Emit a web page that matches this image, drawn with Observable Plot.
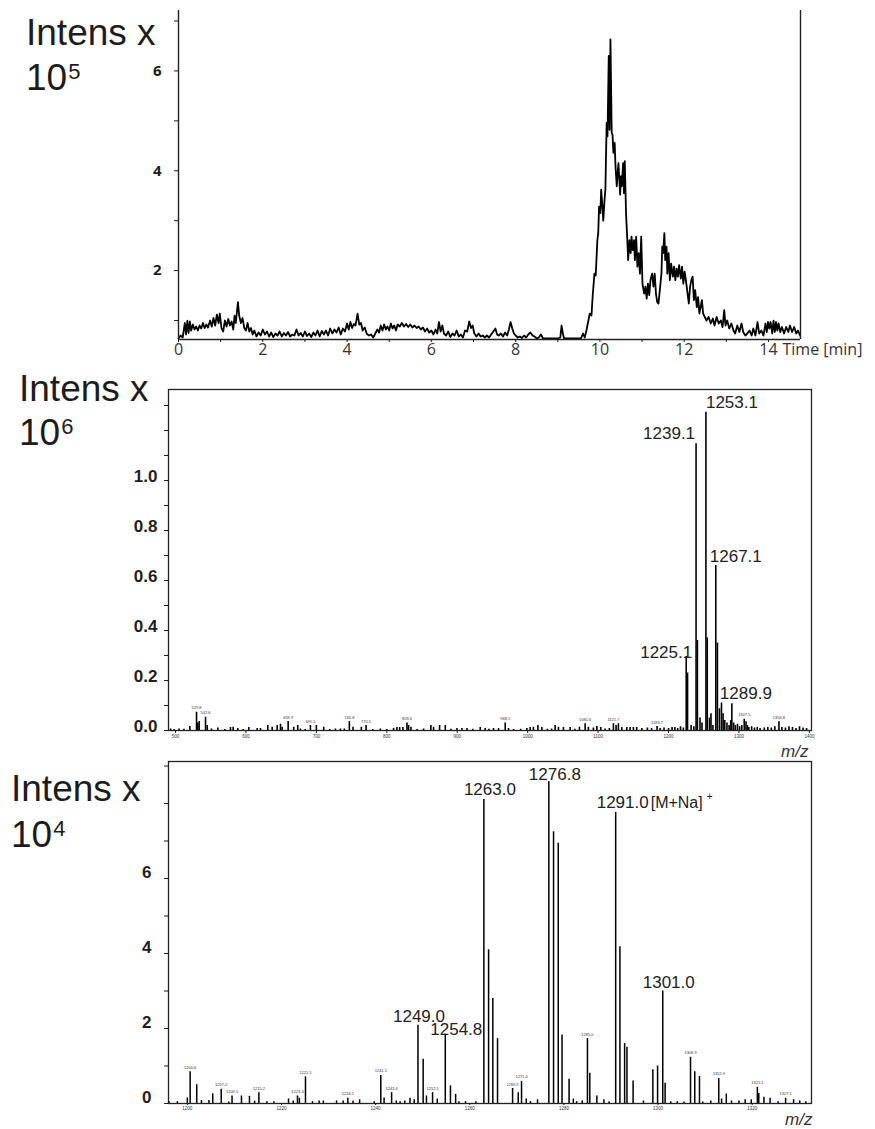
<!DOCTYPE html>
<html>
<head>
<meta charset="utf-8">
<script src="https://cdn.jsdelivr.net/npm/d3@7"></script>
<script src="https://cdn.jsdelivr.net/npm/@observablehq/plot@0.6"></script>
<style>
  html, body { margin: 0; padding: 0; background: #fff; }
  #wrap { position: relative; width: 875px; height: 1129px; overflow: hidden; background: #fff; }
  #wrap > svg { position: absolute; left: 0; }
  .intens { position: absolute; font-family: "Liberation Sans", Arial, sans-serif; font-size: 37px; line-height: 37px; color: #1c1c1c; white-space: nowrap; }
  .intens span { font-size: 22px; position: relative; top: -11px; margin-left: 1px; }
</style>
</head>
<body>
<div id="wrap"></div>
<script>
// ---------- DATA ----------
// Panel 1: chromatogram (time in min, intensity x 10^5)
const chromTime = [
  0.00,0.05,0.10,0.15,0.18,0.21,0.24,0.27,0.30,0.34,
  0.38,0.42,0.46,0.50,0.54,0.58,0.62,0.66,0.70,0.75,
  0.79,0.83,0.87,0.91,0.95,0.98,1.02,1.06,1.10,1.14,
  1.18,1.22,1.26,1.30,1.33,1.36,1.41,1.44,1.48,1.52,
  1.56,1.60,1.64,1.68,1.72,1.76,1.80,1.85,1.90,1.95,
  2.00,2.05,2.10,2.15,2.20,2.25,2.30,2.35,2.40,2.45,
  2.50,2.55,2.60,2.65,2.70,2.75,2.80,2.85,2.90,2.95,
  3.00,3.05,3.10,3.15,3.20,3.25,3.30,3.35,3.40,3.45,
  3.50,3.55,3.60,3.65,3.70,3.75,3.80,3.85,3.90,3.95,
  4.00,4.04,4.08,4.12,4.16,4.20,4.25,4.29,4.33,4.37,
  4.42,4.47,4.52,4.57,4.62,4.67,4.72,4.76,4.80,4.84,
  4.88,4.92,4.96,5.00,5.04,5.08,5.12,5.16,5.20,5.25,
  5.30,5.35,5.40,5.45,5.50,5.55,5.60,5.65,5.70,5.75,
  5.80,5.85,5.90,5.95,6.00,6.05,6.10,6.14,6.18,6.22,
  6.26,6.30,6.35,6.40,6.45,6.50,6.55,6.60,6.65,6.70,
  6.75,6.80,6.85,6.90,6.94,6.98,7.02,7.07,7.12,7.17,
  7.22,7.27,7.32,7.37,7.42,7.47,7.52,7.56,7.60,7.65,
  7.70,7.75,7.80,7.84,7.88,7.92,7.96,8.00,8.05,8.10,
  8.15,8.20,8.25,8.30,8.35,8.40,8.45,8.50,8.55,8.60,
  8.65,8.80,9.00,9.06,9.09,9.12,9.15,9.40,9.55,9.60,
  9.64,9.68,9.72,9.76,9.80,9.83,9.87,9.90,9.94,9.96,
  9.98,10.01,10.03,10.06,10.08,10.11,10.13,10.16,10.18,10.21,
  10.23,10.25,10.28,10.30,10.32,10.35,10.37,10.40,10.42,10.44,
  10.48,10.50,10.52,10.55,10.57,10.59,10.62,10.65,10.67,10.70,
  10.73,10.75,10.78,10.81,10.83,10.86,10.89,10.92,10.95,10.98,
  11.01,11.05,11.08,11.11,11.14,11.17,11.20,11.24,11.27,11.30,
  11.33,11.36,11.39,11.43,11.46,11.48,11.50,11.53,11.55,11.58,
  11.60,11.63,11.66,11.69,11.73,11.76,11.79,11.82,11.85,11.88,
  11.92,11.95,11.98,12.01,12.04,12.07,12.11,12.14,12.17,12.20,
  12.23,12.26,12.30,12.33,12.36,12.39,12.42,12.45,12.49,12.53,
  12.58,12.63,12.68,12.72,12.77,12.82,12.87,12.91,12.95,12.98,
  13.02,13.07,13.12,13.17,13.21,13.26,13.31,13.36,13.40,13.45,
  13.50,13.55,13.60,13.64,13.69,13.74,13.78,13.83,13.88,13.93,
  13.96,13.99,14.02,14.05,14.09,14.12,14.15,14.18,14.21,14.24,
  14.28,14.32,14.37,14.42,14.47,14.51,14.56,14.61,14.66,14.70,
  14.75
];
const chromIntens = [
  0.64,0.70,0.66,0.95,0.72,1.00,0.75,0.98,0.80,0.92,
  0.82,0.88,0.80,0.90,0.84,0.95,0.85,0.92,0.86,1.00,
  0.88,1.05,0.90,1.12,0.95,1.14,0.85,0.78,1.00,0.88,
  1.03,0.90,0.98,0.82,1.10,0.95,1.37,1.10,0.95,1.05,
  0.85,0.80,0.95,0.78,0.85,0.72,0.80,0.68,0.76,0.70,
  0.82,0.72,0.78,0.68,0.76,0.67,0.74,0.70,0.78,0.68,
  0.75,0.70,0.77,0.68,0.72,0.70,0.82,0.70,0.75,0.68,
  0.78,0.69,0.74,0.67,0.76,0.70,0.80,0.68,0.79,0.72,
  0.80,0.70,0.84,0.74,0.82,0.76,0.86,0.72,0.84,0.78,
  0.94,0.82,0.97,0.85,0.93,0.90,1.14,0.92,0.95,0.80,
  0.86,0.73,0.70,0.72,0.66,0.74,0.82,0.76,0.90,0.80,
  0.92,0.82,0.88,0.80,0.94,0.84,0.90,0.80,0.92,0.88,
  0.95,0.88,0.93,0.87,0.92,0.86,0.90,0.85,0.88,0.82,
  0.86,0.78,0.84,0.76,0.80,0.72,0.82,0.74,0.97,0.78,
  0.90,0.74,0.70,0.78,0.67,0.74,0.70,0.80,0.68,0.72,
  0.66,0.80,0.78,0.98,0.85,0.90,0.74,0.68,0.74,0.68,
  0.70,0.66,0.70,0.66,0.72,0.78,0.84,0.72,0.70,0.74,
  0.68,0.76,0.70,0.82,0.97,0.84,0.74,0.70,0.66,0.68,
  0.65,0.70,0.66,0.72,0.76,0.70,0.68,0.64,0.66,0.72,
  0.64,0.64,0.64,0.66,0.90,0.74,0.64,0.64,0.64,0.74,
  0.66,0.80,0.97,1.14,1.10,1.51,1.94,1.90,2.61,2.75,
  3.28,3.15,3.62,3.28,3.00,3.42,3.62,4.96,4.69,6.30,
  4.82,6.63,4.76,4.72,4.36,4.56,4.09,3.69,3.95,4.15,
  3.52,3.89,3.69,4.15,3.55,4.19,3.15,2.61,2.21,2.61,
  2.35,2.68,2.41,2.61,2.21,2.68,2.08,2.35,1.94,2.68,
  1.74,1.54,1.68,1.44,1.74,1.51,1.81,1.94,1.68,1.94,
  1.54,1.37,1.34,1.68,1.94,2.48,2.35,2.75,2.21,2.48,
  1.94,2.35,1.81,2.14,1.88,2.08,1.81,2.04,1.88,2.11,
  1.84,2.08,1.74,1.98,1.81,1.61,1.34,1.68,1.81,1.88,
  1.41,1.61,1.27,1.47,1.14,1.27,1.41,1.14,1.07,1.00,
  1.07,0.94,1.04,0.90,1.07,0.94,1.00,0.87,1.21,0.90,
  1.00,0.84,0.94,0.80,0.74,0.90,0.77,0.94,0.77,0.70,
  0.74,0.80,0.70,0.84,0.70,0.97,0.74,0.80,0.70,0.94,
  0.77,0.97,0.84,0.97,0.74,1.00,0.77,0.97,0.80,0.94,
  0.77,0.87,0.74,0.87,0.77,0.90,0.77,0.87,0.74,0.80,
  0.70
];
const chromXTicks = [0, 2, 4, 6, 8, 10, 12, 14];
const chromYTicks = [2, 4, 6];
const chromAxisTitle = "Time [min]";

// Panel 2: mass spectrum (m/z, intensity x 10^6)
const ms1Mz = [
  493,498,505,512,520.3,529.8,531.6,533.6,542.6,545.0,
  551.0,560.0,570,578.0,581.8,588.4,596,604.0,615.9,620.6,
  631.0,637.2,644.3,649.0,651.3,659.9,667.8,673.5,677.3,684,
  691.5,700.0,710.4,719,727.0,734.0,739.7,746.8,752.0,763.8,
  770.5,780,790.8,800,809.6,814.4,818.2,822.9,828.6,830.9,
  834.3,843,852.2,862.6,866.4,874.9,883.0,891,899.6,906.7,
  913.8,922,932.6,939.7,945,951.5,958.6,968.1,972.8,980,
  990,998.9,1003.5,1008.2,1014.5,1020.1,1028,1034,1039.0,1043.7,
  1050.8,1060.3,1067,1073.5,1081.6,1086.2,1093.3,1098.2,1103.8,1110,
  1116,1121.7,1125.5,1128.8,1133.6,1140.7,1145.4,1150.1,1154.8,1162,
  1170,1176,1183.7,1188,1193.6,1200,1205,1209.0,1213,1217.0,
  1221,1225.1,1227.0,1232,1236,1239.1,1241.0,1244.7,1247.5,1253.1,
  1255.0,1258.2,1260.3,1263,1267.1,1269.4,1272.3,1275.2,1277.5,1279.8,
  1283,1286,1288.3,1289.9,1292.5,1295,1298,1301,1304,1307.5,
  1310,1312,1314,1318,1322,1326,1330,1336,1341,1346,
  1351,1356.8,1361,1366,1371,1376,1381,1386,1391,1396
];
const ms1Int = [
  0.006,0.004,0.006,0.005,0.016,0.073,0.030,0.036,0.053,0.020,
  0.006,0.010,0.004,0.012,0.013,0.008,0.004,0.012,0.008,0.008,
  0.020,0.013,0.020,0.025,0.013,0.036,0.013,0.020,0.006,0.004,
  0.020,0.020,0.013,0.004,0.006,0.006,0.006,0.036,0.013,0.013,
  0.020,0.004,0.006,0.004,0.008,0.012,0.012,0.012,0.030,0.020,
  0.013,0.004,0.006,0.020,0.013,0.020,0.020,0.005,0.008,0.008,
  0.008,0.005,0.012,0.008,0.005,0.008,0.008,0.030,0.008,0.004,
  0.005,0.008,0.012,0.013,0.020,0.012,0.005,0.006,0.020,0.013,
  0.012,0.012,0.005,0.013,0.027,0.013,0.010,0.016,0.012,0.006,
  0.008,0.027,0.020,0.027,0.012,0.012,0.012,0.012,0.012,0.008,
  0.010,0.008,0.016,0.008,0.010,0.008,0.012,0.012,0.008,0.015,
  0.010,0.296,0.230,0.020,0.015,1.147,0.360,0.050,0.030,1.273,
  0.370,0.050,0.067,0.020,0.660,0.350,0.087,0.110,0.067,0.040,
  0.030,0.020,0.040,0.107,0.030,0.020,0.025,0.015,0.020,0.045,
  0.035,0.020,0.012,0.015,0.010,0.012,0.008,0.010,0.012,0.010,
  0.015,0.035,0.012,0.010,0.015,0.012,0.008,0.015,0.010,0.008
];
const ms1PeakLabels = [1225.1, 1239.1, 1253.1, 1267.1, 1289.9];
const ms1MinorLabels = [529.8, 542.6, 659.9, 691.5, 746.8, 770.5, 828.6, 968.1, 1081.6, 1121.7, 1183.7, 1307.5, 1356.8];
const ms1XTicks = [500, 600, 700, 800, 900, 1000, 1100, 1200, 1300, 1400];
const ms1YTicks = [0.0, 0.2, 0.4, 0.6, 0.8, 1.0];

// Panel 3: mass spectrum (m/z, intensity x 10^4)
const ms2Mz = [
  1196.1,1197.9,1200.0,1200.6,1202.0,1203.0,1204.6,1205.4,1207.2,1208.8,
  1209.5,1211.5,1213.2,1214.3,1215.2,1216.9,1218.4,1221.5,1222.5,1223.4,
  1223.8,1225.1,1226.6,1228.0,1228.9,1231.7,1233.1,1234.1,1235.2,1236.6,
  1239.7,1241.1,1241.8,1243.4,1244.4,1245.2,1246.2,1247.3,1248.2,1249.0,
  1250.1,1250.8,1252.1,1253.1,1254.8,1255.9,1257.0,1257.7,1259.1,1261.3,
  1263.0,1264.0,1264.9,1265.9,1269.1,1270.3,1271.0,1272.0,1272.9,1274.4,
  1276.8,1277.8,1278.8,1279.6,1281.1,1282.0,1282.7,1283.9,1285.0,1285.5,
  1287.0,1288.5,1289.6,1291.0,1291.9,1292.9,1293.4,1294.7,1296.9,1298.9,
  1299.9,1301.0,1301.5,1302.7,1304.1,1305.5,1306.9,1307.8,1308.8,1309.5,
  1311.2,1312.9,1313.5,1314.5,1315.6,1317.2,1318.5,1319.8,1321.1,1321.4,
  1322.5,1323.8,1325.5,1327.1,1328.8,1330.1,1331.4
];
const ms2Int = [
  0.05,0.05,0.15,0.85,0.50,0.08,0.08,0.26,0.38,0.04,
  0.20,0.20,0.19,0.06,0.29,0.05,0.05,0.12,0.07,0.20,
  0.14,0.71,0.05,0.07,0.07,0.07,0.07,0.14,0.07,0.10,
  0.05,0.75,0.15,0.29,0.07,0.05,0.07,0.14,0.10,2.09,
  1.18,0.20,0.29,0.12,1.85,0.47,0.24,0.05,0.05,0.05,
  8.11,4.10,2.80,1.73,0.40,0.29,0.59,0.12,0.05,0.10,
  8.58,7.25,6.94,1.83,0.65,0.12,0.05,0.07,1.73,0.81,
  0.20,0.10,0.05,7.76,4.18,1.60,1.50,0.60,0.07,0.90,
  1.00,3.00,0.54,0.05,0.05,0.04,1.23,0.85,0.72,0.04,
  0.07,0.67,0.12,0.25,0.07,0.07,0.10,0.10,0.43,0.27,
  0.17,0.14,0.05,0.14,0.10,0.07,0.05
];
const ms2PeakLabels = [1249.0, 1254.8, 1263.0, 1276.8, 1291.0, 1301.0];
const ms2AdductLabel = "[M+Na]";
const ms2MinorLabels = [1200.6, 1207.2, 1209.5, 1215.2, 1223.4, 1225.1, 1234.1, 1241.1, 1243.4, 1252.1, 1269.1, 1271.0, 1285.0, 1306.9, 1312.9, 1321.1, 1327.1];
const ms2XTicks = [1200, 1220, 1240, 1260, 1280, 1300, 1320];
const ms2YTicks = [0, 2, 4, 6];

const intensExponents = ["5", "6", "4"];

// ---------- DRAWING ----------
const wrap = document.getElementById("wrap");
const numFont = "'Open Sans', 'DejaVu Sans', sans-serif";
const lblFont = "'Liberation Sans', Arial, sans-serif";
const baseStyle = {background: "transparent", color: "#1e1e1e", fontFamily: lblFont, overflow: "visible"};
function place(svg, top) { svg.style.top = top + "px"; wrap.appendChild(svg); }

// Panel 1
const chrom = chromTime.map((t, i) => ({t, v: chromIntens[i]}));
const chromX = [0, 14.76], chromY = [0.62, 7.21];
place(Plot.plot({
  width: 875, height: 372,
  marginLeft: 178, marginRight: 75, marginTop: 10, marginBottom: 33,
  x: {domain: chromX, label: null}, y: {domain: chromY, label: null},
  style: baseStyle,
  marks: [
    Plot.axisY({ticks: d3.range(1, 8), tickSize: 4, tickFormat: () => "", label: null}),
    Plot.axisX({ticks: d3.range(0, 15), tickSize: 3, tickPadding: 1, label: null,
      tickFormat: d => chromXTicks.includes(d) ? String(d) : "", fontSize: 16, fontFamily: numFont, fill: "#333"}),
    Plot.text([chromAxisTitle], {x: () => 14, y: () => chromY[0], text: d => d, dx: 14, dy: 4,
      textAnchor: "start", lineAnchor: "top", fontSize: 16, fontFamily: numFont, fill: "#333"}),
    Plot.text(chromYTicks, {x: () => chromX[0], y: d => d, text: d => String(d), textAnchor: "end",
      dx: -17, fontSize: 15, fontWeight: 700, fontFamily: numFont}),
    Plot.line(chrom, {x: "t", y: "v", stroke: "#000", strokeWidth: 1.8}),
    Plot.ruleX(chromX, {stroke: "#222", strokeWidth: 1.4}),
    Plot.ruleY([chromY[0]], {stroke: "#222", strokeWidth: 1.4})
  ]
}), 0);

// helper for peak labels
function peakLabel(data, mz, o) {
  const d = data.find(p => Math.abs(p.mz - mz) < 1e-6);
  return Plot.text([d], {x: "mz", y: "v", text: () => mz.toFixed(1), textAnchor: o.anchor, dx: o.dx, dy: o.dy,
    lineAnchor: "middle", fontSize: 17, fontFamily: lblFont, fill: "#222"});
}

// Panel 2
const ms1 = ms1Mz.map((mz, i) => ({mz, v: ms1Int[i]}));
const ms1X = [490, 1403], ms1Y = [0, 1.364];
const ms1Style = {
  1225.1: {anchor: "end", dx: 6, dy: -4},
  1239.1: {anchor: "end", dx: -1, dy: -10},
  1253.1: {anchor: "start", dx: 0, dy: -10},
  1267.1: {anchor: "start", dx: -6, dy: -9},
  1289.9: {anchor: "start", dx: -12, dy: -10}
};
place(Plot.plot({
  width: 875, height: 390,
  marginLeft: 168, marginRight: 64, marginTop: 19, marginBottom: 30,
  x: {domain: ms1X, label: null}, y: {domain: ms1Y, label: null},
  style: baseStyle,
  marks: [
    Plot.ruleX(ms1, {x: "mz", y1: 0, y2: "v", stroke: "#000", strokeWidth: 1.6}),
    Plot.frame({stroke: "#222", strokeWidth: 1.3}),
    Plot.axisY({ticks: d3.range(0, 14).map(i => i / 10), tickSize: 4, tickFormat: () => "", label: null}),
    Plot.text(ms1YTicks, {x: () => ms1X[0], y: d => d, text: d => d.toFixed(1), textAnchor: "end",
      dx: -11, dy: -4, fontSize: 17, fontWeight: 700, fontFamily: lblFont}),
    Plot.axisX({ticks: ms1XTicks, tickSize: 3, tickPadding: 1, tickFormat: d => String(d), label: null,
      fontSize: 4.5, fill: "#333"}),
    Plot.text(ms1.filter(d => ms1MinorLabels.includes(d.mz)), {x: "mz", y: "v", text: d => d.mz.toFixed(1),
      dy: -3, lineAnchor: "bottom", fontSize: 4, fill: "#333"}),
    ...ms1PeakLabels.map(mz => peakLabel(ms1, mz, ms1Style[mz])),
    Plot.text(["m/z"], {frameAnchor: "bottom-right", text: d => d, textAnchor: "end", lineAnchor: "middle",
      dx: -3, dy: 21, fontSize: 17, fontStyle: "italic", fontFamily: lblFont, fill: "#333"})
  ]
}), 370);

// Panel 3
const ms2 = ms2Mz.map((mz, i) => ({mz, v: ms2Int[i]}));
const ms2X = [1196, 1332.6], ms2Y = [0, 9.12];
const ms2Style = {
  1249.0: {anchor: "middle", dx: 1, dy: -9},
  1254.8: {anchor: "middle", dx: 11, dy: -5},
  1263.0: {anchor: "middle", dx: 6, dy: -10},
  1276.8: {anchor: "middle", dx: 6, dy: -7},
  1291.0: {anchor: "middle", dx: 7, dy: -10},
  1301.0: {anchor: "middle", dx: 6, dy: -8}
};
const adductPeak = ms2.find(d => d.mz === 1291.0);
place(Plot.plot({
  width: 875, height: 374,
  marginLeft: 168, marginRight: 64, marginTop: 6, marginBottom: 26,
  x: {domain: ms2X, label: null}, y: {domain: ms2Y, label: null},
  style: baseStyle,
  marks: [
    Plot.ruleX(ms2, {x: "mz", y1: 0, y2: "v", stroke: "#000", strokeWidth: 1.5}),
    Plot.frame({stroke: "#222", strokeWidth: 1.3}),
    Plot.axisY({ticks: d3.range(0, 10), tickSize: 4, tickFormat: () => "", label: null}),
    Plot.text(ms2YTicks, {x: () => ms2X[0], y: d => d, text: d => String(d), textAnchor: "end",
      dx: -17, dy: -6, fontSize: 17, fontWeight: 700, fontFamily: lblFont}),
    Plot.axisX({ticks: ms2XTicks, tickSize: 2, tickPadding: 1, tickFormat: d => String(d), label: null,
      fontSize: 4.5, fill: "#333"}),
    Plot.text(ms2.filter(d => ms2MinorLabels.includes(d.mz)), {x: "mz", y: "v", text: d => d.mz.toFixed(1),
      dy: -3, lineAnchor: "bottom", fontSize: 4, fill: "#333"}),
    ...ms2PeakLabels.map(mz => peakLabel(ms2, mz, ms2Style[mz])),
    Plot.text([adductPeak], {x: "mz", y: "v", text: () => ms2AdductLabel, textAnchor: "start", dx: 35, dy: -10,
      lineAnchor: "middle", fontSize: 16, fontFamily: lblFont, fill: "#222"}),
    Plot.text([adductPeak], {x: "mz", y: "v", text: () => "+", textAnchor: "middle", dx: 94, dy: -16,
      lineAnchor: "middle", fontSize: 10, fontFamily: lblFont, fill: "#222"}),
    Plot.text(["m/z"], {frameAnchor: "bottom-right", text: d => d, textAnchor: "end", lineAnchor: "middle",
      dx: 1, dy: 16, fontSize: 17, fontStyle: "italic", fontFamily: lblFont, fill: "#333"})
  ]
}), 755);

// "Intens x 10^n" titles
const titlePos = [
  {left: 26, top: 13.7, top2: 58.7},
  {left: 19, top: 369.7, top2: 413.7},
  {left: 11, top: 770.4, top2: 815.7}
];
titlePos.forEach((p, i) => {
  const a = document.createElement("div");
  a.className = "intens"; a.style.left = p.left + "px"; a.style.top = p.top + "px";
  a.textContent = "Intens x";
  const b = document.createElement("div");
  b.className = "intens"; b.style.left = p.left + "px"; b.style.top = p.top2 + "px";
  b.innerHTML = "10<span>" + intensExponents[i] + "</span>";
  wrap.appendChild(a); wrap.appendChild(b);
});
</script>
</body>
</html>
